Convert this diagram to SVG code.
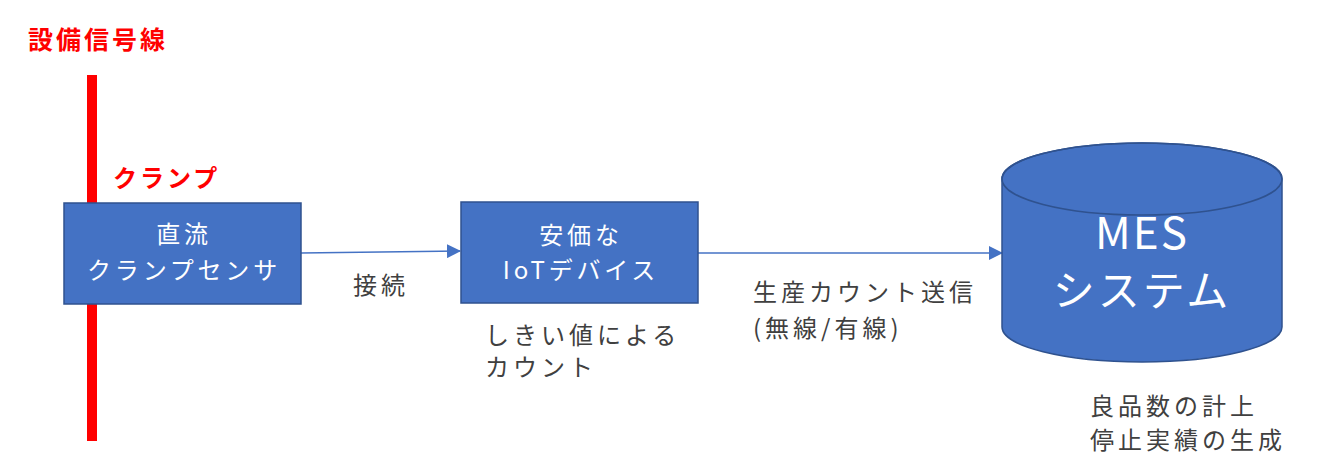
<svg xmlns="http://www.w3.org/2000/svg" width="1330" height="464" viewBox="0 0 1330 464">
<style>
.box{fill:#4472C4;stroke:#2F528F;stroke-width:1.5}
.wt{fill:#ffffff;font-family:"Noto Sans CJK JP","Noto Sans",sans-serif;font-size:24px;letter-spacing:3.8px;text-anchor:middle}
.lb{fill:#404040;font-family:"Noto Sans CJK JP","Noto Sans",sans-serif;font-size:24px;letter-spacing:4px}
.red{fill:#FF0000;font-family:"Noto Sans CJK JP","Noto Sans",sans-serif;font-weight:bold}
.big{font-size:44px;letter-spacing:2px}
.big2{font-size:42px;letter-spacing:3px}
.conn{stroke:#4472C4;stroke-width:1.5;fill:none}
</style>
<defs>
<marker id="arrL" markerWidth="14" markerHeight="14" refX="13" refY="7" orient="auto" markerUnits="userSpaceOnUse" viewBox="0 0 14 14">
<path d="M0,0 L14,7 L0,14 Z" fill="#4472C4"/>
</marker>
</defs>
<rect width="1330" height="464" fill="#ffffff"/>
<g id="signal-line">
<rect x="87" y="75" width="10" height="366" fill="#FF0000"/>
<text class="red" x="28" y="49" font-size="25" letter-spacing="3">設備信号線</text>
<text class="red" x="113" y="187" font-size="24" letter-spacing="3">クランプ</text>
</g>
<g id="connectors">
<path class="conn" d="M301,253 L460,251" marker-end="url(#arrL)"/>
<path class="conn" d="M698,253 L1002,253" marker-end="url(#arrL)"/>
<text class="lb" x="353" y="294">接続</text>
<text class="lb" x="753" y="301">生産カウント送信</text>
<text class="lb" x="753" y="337">(無線/有線)</text>
</g>
<g id="sensor">
<rect class="box" x="64" y="203" width="237" height="101"/>
<text class="wt" x="184" y="243">直流</text>
<text class="wt" x="184" y="279">クランプセンサ</text>
</g>
<g id="iot">
<rect class="box" x="461" y="202" width="237" height="101"/>
<text class="wt" x="581" y="244">安価な</text>
<text class="wt" x="581" y="279">IoTデバイス</text>
<text class="lb" x="485" y="344">しきい値による</text>
<text class="lb" x="485" y="376">カウント</text>
</g>
<g id="mes">
<path class="box" d="M1002,179 L1002,327 A140,35 0 0 0 1282,327 L1282,179 A140,36 0 0 0 1002,179 Z"/>
<ellipse cx="1142" cy="179" rx="140" ry="36" fill="none" stroke="#2F528F" stroke-width="1.5"/>
<text class="wt big" x="1142" y="249">MES</text>
<text class="wt big2" x="1142" y="306">システム</text>
<text class="lb" x="1090" y="415">良品数の計上</text>
<text class="lb" x="1090" y="449">停止実績の生成</text>
</g>
</svg>
